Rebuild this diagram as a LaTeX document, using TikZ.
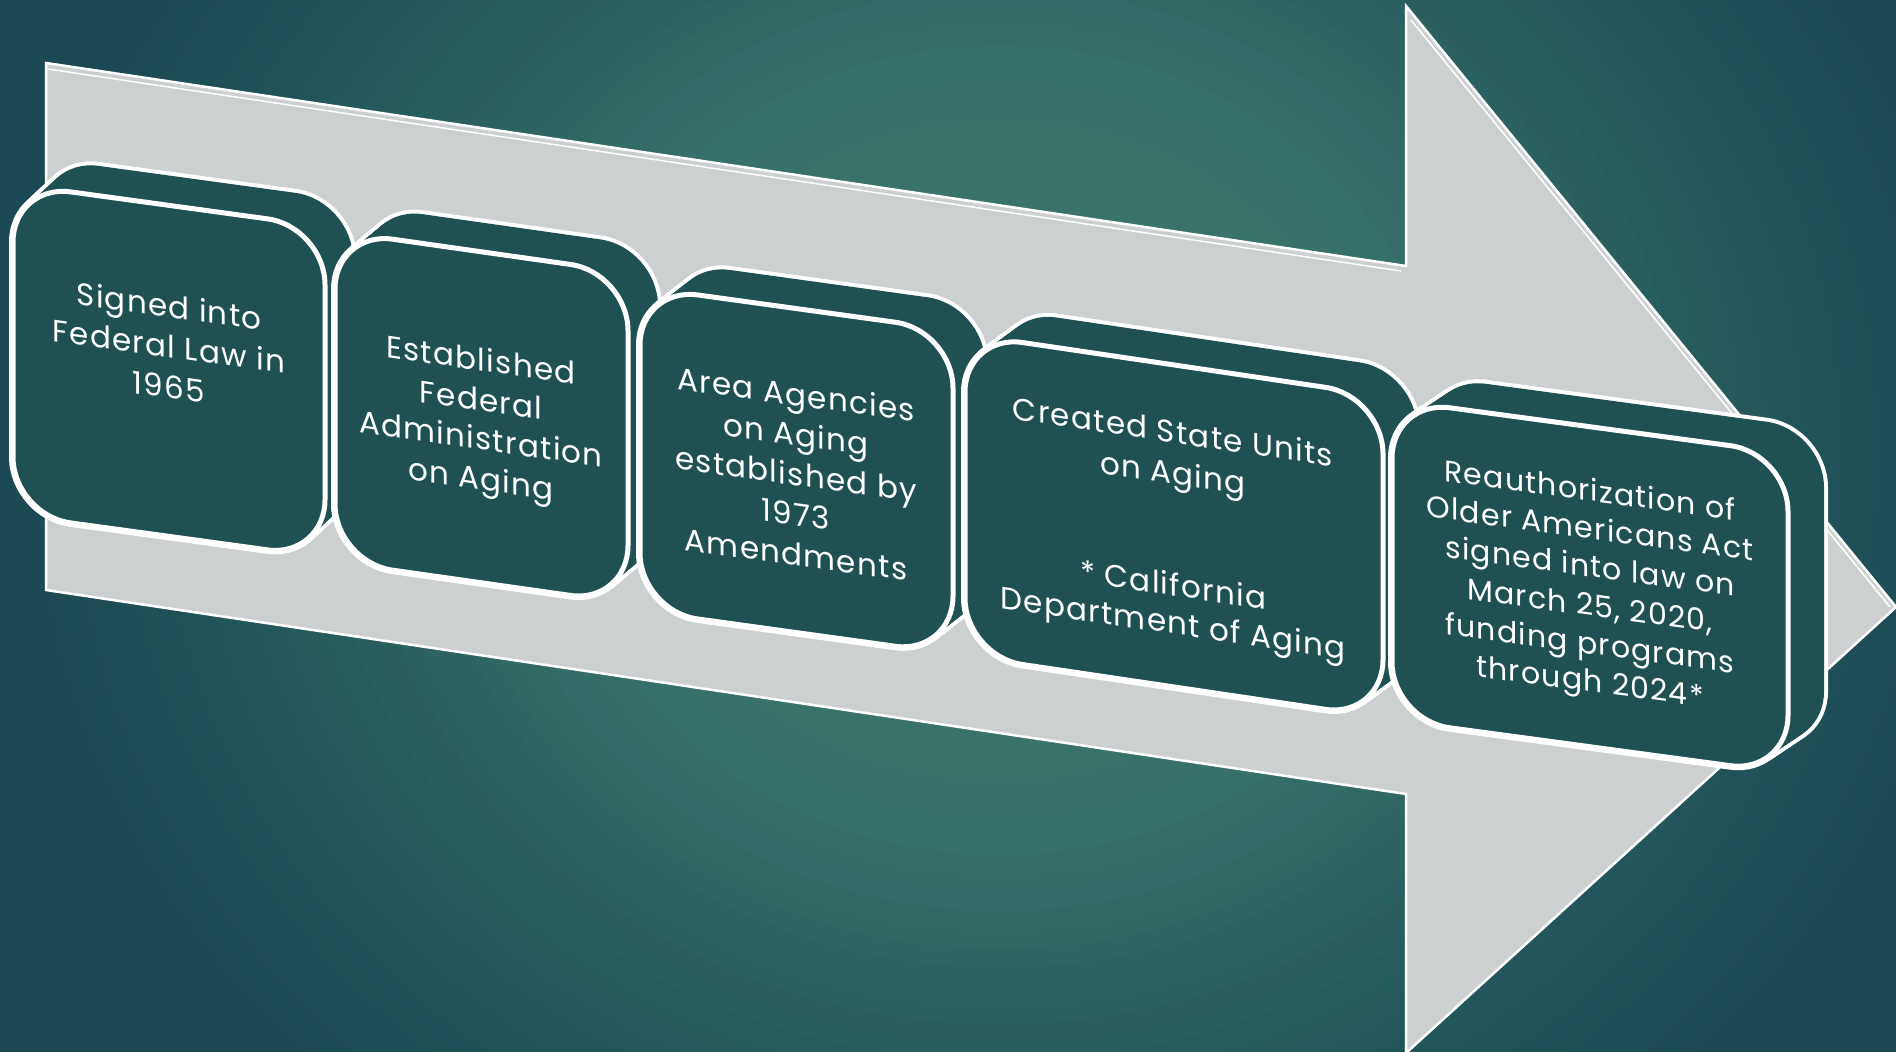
\documentclass[tikz,border=0pt]{standalone}
\usepackage{fontspec}
\setmainfont{Poppins}[LetterSpace=4]
\definecolor{bgA}{HTML}{1B4953}
\definecolor{bgB}{HTML}{1F5157}
\definecolor{bgC}{HTML}{275C5C}
\definecolor{bgD}{HTML}{36706A}
\definecolor{bgE}{HTML}{3B7568}
\definecolor{bgF}{HTML}{3D776A}
\definecolor{arrowgray}{HTML}{CCD0D0}
\definecolor{boxteal}{HTML}{1F5153}
\tikzset{
  boxtext/.style={text=white, font=\fontsize{31}{40}\selectfont, transform shape, inner sep=0pt, anchor=base},
  boxtextsm/.style={boxtext, font=\fontsize{30}{38}\selectfont},
  silh/.style={draw=white, line width=8pt, rounded corners=58pt},
  hull/.style={fill=boxteal, rounded corners=58pt},
  front/.style={fill=boxteal, draw=white, line width=5pt, rounded corners=58pt},
  arrowedge/.style={draw=white, line width=2.5pt, line join=miter}
}
% background ring segment: #1 r start, #2 r end, #3 colour start, #4 colour end
\newcommand\bgseg[4]{%
  \foreach \i in {0,...,11}{%
    \pgfmathsetmacro\rr{#1-(#1-#2)*\i/12}%
    \pgfmathsetmacro\pp{100*\i/12}%
    \fill[#4!\pp!#3] (1000,450) ellipse [x radius={\rr*1000pt}, y radius={\rr*900pt}];
  }%
}
% #1 x0, #2 y0, #3 W, #4 H, #5 slant, #6 depth dx, #7 depth up
\newcommand\tlbox[7]{%
  \foreach \k in {0,...,16}{%
    \path[silh, shift={({#1+#6*\k/16},{#2-#7*\k/16})}, yslant=-#5] (0,0) rectangle (#3,#4);
  }%
  \foreach \k in {0,...,16}{%
    \path[hull, shift={({#1+#6*\k/16},{#2-#7*\k/16})}, yslant=-#5] (0,0) rectangle (#3,#4);
  }%
  \path[front, shift={(#1,#2)}, yslant=-#5] (0,0) rectangle (#3,#4);
}
\begin{document}
\begin{tikzpicture}[x=1pt, y=-1pt]
\useasboundingbox (0,0) rectangle (1896,1052);
\clip (0,0) rectangle (1896,1052);
% background
\fill[bgA] (0,0) rectangle (1896,1052);
\bgseg{1.0}{0.85}{bgA}{bgB}
\bgseg{0.85}{0.7}{bgB}{bgC}
\bgseg{0.7}{0.45}{bgC}{bgD}
\bgseg{0.45}{0.2}{bgD}{bgE}
\bgseg{0.2}{0.02}{bgE}{bgF}
% arrow
\fill[arrowgray] (46,63) -- (1406,266) -- (1406,6) -- (1896,607) -- (1406,1053) -- (1406,794) -- (46,590) -- cycle;
\path[arrowedge] (46,63) -- (1406,266) -- (1406,6) -- (1896,607) -- (1406,1053) -- (1406,794) -- (46,590) -- cycle;
\draw[white, line width=1.5pt] (48,69) -- (1401,271);
\draw[white, line width=1.5pt] (1411,20) -- (1890,607);
% box 1
\tlbox{13}{184}{312}{331}{0.137}{28}{26}
\begin{scope}[shift={(13,184)}, yslant=-0.137]
  \node[boxtext] (t1a) at (156,112) {Signed into};
  \node[boxtext] (t1b) at (156,152) {Federal Law in};
  \node[boxtext] (t1c) at (156,193) {1965};
\end{scope}
% box 2
\tlbox{335}{231}{293}{331}{0.142}{30}{25}
\begin{scope}[shift={(335,231)}, yslant=-0.142]
  \node[boxtext] (t2a) at (146,119) {Established};
  \node[boxtext] (t2b) at (146,159) {Federal};
  \node[boxtext] (t2c) at (146,198) {Administration};
  \node[boxtext] (t2d) at (146,238) {on Aging};
\end{scope}
% box 3
\tlbox{640}{287}{313}{324}{0.138}{32}{25}
\begin{scope}[shift={(640,287)}, yslant=-0.138]
  \node[boxtext] (t3a) at (156,97) {Area Agencies};
  \node[boxtext] (t3b) at (156,137) {on Aging};
  \node[boxtext] (t3c) at (156,177) {established by};
  \node[boxtext] (t3d) at (156,217) {1973};
  \node[boxtext] (t3e) at (156,257) {Amendments};
\end{scope}
% box 4
\tlbox{965}{334}{418}{322}{0.148}{34}{25}
\begin{scope}[shift={(965,334)}, yslant=-0.148]
  \node[boxtext] (t4a) at (208,78) {Created State Units};
  \node[boxtext] (t4b) at (208,119) {on Aging};
  \node[boxtext] (t4c) at (208,231) {* California};
  \node[boxtext] (t4d) at (208,269) {Department of Aging};
\end{scope}
% box 5
\tlbox{1392}{400}{396}{320}{0.135}{36}{24}
\begin{scope}[shift={(1392,400)}, yslant=-0.135]
  \node[boxtextsm] (t5a) at (198,74) {Reauthorization of};
  \node[boxtextsm] (t5b) at (198,112) {Older Americans Act};
  \node[boxtextsm] (t5c) at (198,150) {signed into law on};
  \node[boxtextsm] (t5d) at (198,189) {March 25, 2020,};
  \node[boxtextsm] (t5e) at (198,227) {funding programs};
  \node[boxtextsm] (t5f) at (198,265) {through 2024*};
\end{scope}
\end{tikzpicture}
\end{document}
